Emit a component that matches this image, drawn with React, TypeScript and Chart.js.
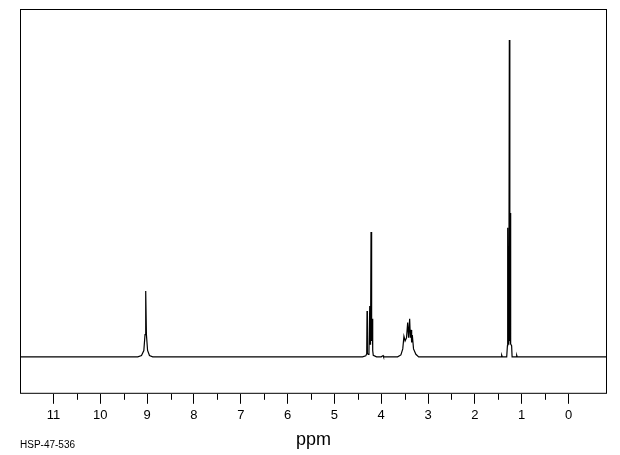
import React, { useEffect, useRef } from "react";
import { Chart, registerables } from "chart.js";

Chart.register(...registerables);

// Chemical shift (ppm) and relative intensity (tallest line = 100)
const shifts = [
  11.715, 9.2, 9.12, 9.07, 9.045, 9.03, 9.015, 8.99, 8.95, 8.88,
  4.4, 4.33, 4.31, 4.303, 4.296, 4.275, 4.262, 4.245, 4.236, 4.228, 4.218, 4.21, 4.2, 4.19, 4.182, 4.17, 4.1,
  4.0, 3.96, 3.95,
  3.65, 3.58, 3.54, 3.515, 3.49, 3.46, 3.435, 3.415, 3.393, 3.378, 3.364, 3.35, 3.336, 3.31, 3.26, 3.2,
  1.6, 1.44, 1.427, 1.415, 1.32, 1.305, 1.299, 1.29, 1.275, 1.264, 1.253, 1.245, 1.239, 1.232, 1.215, 1.205,
  1.12, 1.106, 1.095, -0.822,
];
const intensities = [
  0, 0, 0.4, 2, 7, 20.8, 7, 2, 0.4, 0,
  0, 0.3, 1, 14.5, 1, 0.8, 2, 16, 4, 6, 39.4, 5, 6, 12, 2, 0.5, 0,
  0, 0.4, 0,
  0, 0.6, 2.5, 6.5, 5, 6, 10.8, 6, 12, 6, 8.5, 4.5, 6.9, 2.5, 0.8, 0,
  0, 0, 0.5, 0, 0, 3.5, 40.7, 4, 5, 100, 5, 6, 45.4, 4, 3.5, 0,
  0, 0.5, 0, 0,
];

const majorTicks = [11, 10, 9, 8, 7, 6, 5, 4, 3, 2, 1, 0];
const minorTicks = [10.5, 9.5, 8.5, 7.5, 6.5, 5.5, 4.5, 3.5, 2.5, 1.5, 0.5];
const axisTitle = "ppm";
const sampleId = "HSP-47-536";

const X_MIN = -0.822;
const X_MAX = 11.715;
const Y_MIN = -11.67;
const Y_MAX = 109.78;

const framePlugin = {
  id: "nmrFrame",
  afterDraw(chart: any) {
    const { ctx, chartArea } = chart;
    const { left, top, right, bottom } = chartArea;
    const xs = chart.scales.x;
    ctx.save();
    ctx.strokeStyle = "#000";
    ctx.lineWidth = 1;
    ctx.strokeRect(left + 0.5, top + 0.5, right - left - 1, bottom - top - 1);
    ctx.beginPath();
    for (const v of minorTicks) {
      const px = Math.round(xs.getPixelForValue(v)) + 0.5;
      ctx.moveTo(px, bottom);
      ctx.lineTo(px, bottom + 6);
    }
    ctx.stroke();
    ctx.fillStyle = "#000";
    ctx.font = "10px 'Liberation Sans'";
    ctx.textBaseline = "middle";
    ctx.textAlign = "left";
    ctx.fillText(sampleId, left, 445);
    ctx.restore();
  },
};

export default function App() {
  const ref = useRef<HTMLCanvasElement>(null);

  useEffect(() => {
    if (!ref.current) return;
    const data = shifts.map((x, i) => ({ x, y: intensities[i] }));
    const chart = new Chart(ref.current, {
      type: "line",
      data: {
        datasets: [
          {
            data,
            borderColor: "#000",
            borderWidth: 1.2,
            pointRadius: 0,
            tension: 0,
            fill: false,
          },
        ],
      },
      options: {
        responsive: false,
        animation: false,
        parsing: false as any,
        layout: { padding: { left: 20, right: 13, top: 9, bottom: 0 } },
        plugins: {
          legend: { display: false },
          tooltip: { enabled: false },
        },
        scales: {
          x: {
            type: "linear",
            reverse: true,
            min: X_MIN,
            max: X_MAX,
            afterBuildTicks: (scale: any) => {
              scale.ticks = majorTicks.map((v) => ({ value: v }));
            },
            grid: {
              display: true,
              drawOnChartArea: false,
              drawTicks: true,
              tickLength: 10,
              color: "#000",
            },
            border: { display: false },
            ticks: {
              color: "#000",
              padding: 4,
              maxRotation: 0,
              autoSkip: false,
              font: { family: "'Liberation Sans'", size: 13 },
              callback: (v: any) => String(v),
            },
            title: {
              display: true,
              text: axisTitle,
              color: "#000",
              font: { family: "'Liberation Sans'", size: 18 },
              padding: { top: 2, bottom: 4 },
            },
          },
          y: {
            display: false,
            min: Y_MIN,
            max: Y_MAX,
          },
        },
      },
      plugins: [framePlugin],
    });
    return () => chart.destroy();
  }, []);

  return (
    <div style={{ position: "absolute", left: 0, top: 0, width: 620, height: 455, background: "#fff" }}>
      <canvas ref={ref} width={620} height={455} />
    </div>
  );
}
